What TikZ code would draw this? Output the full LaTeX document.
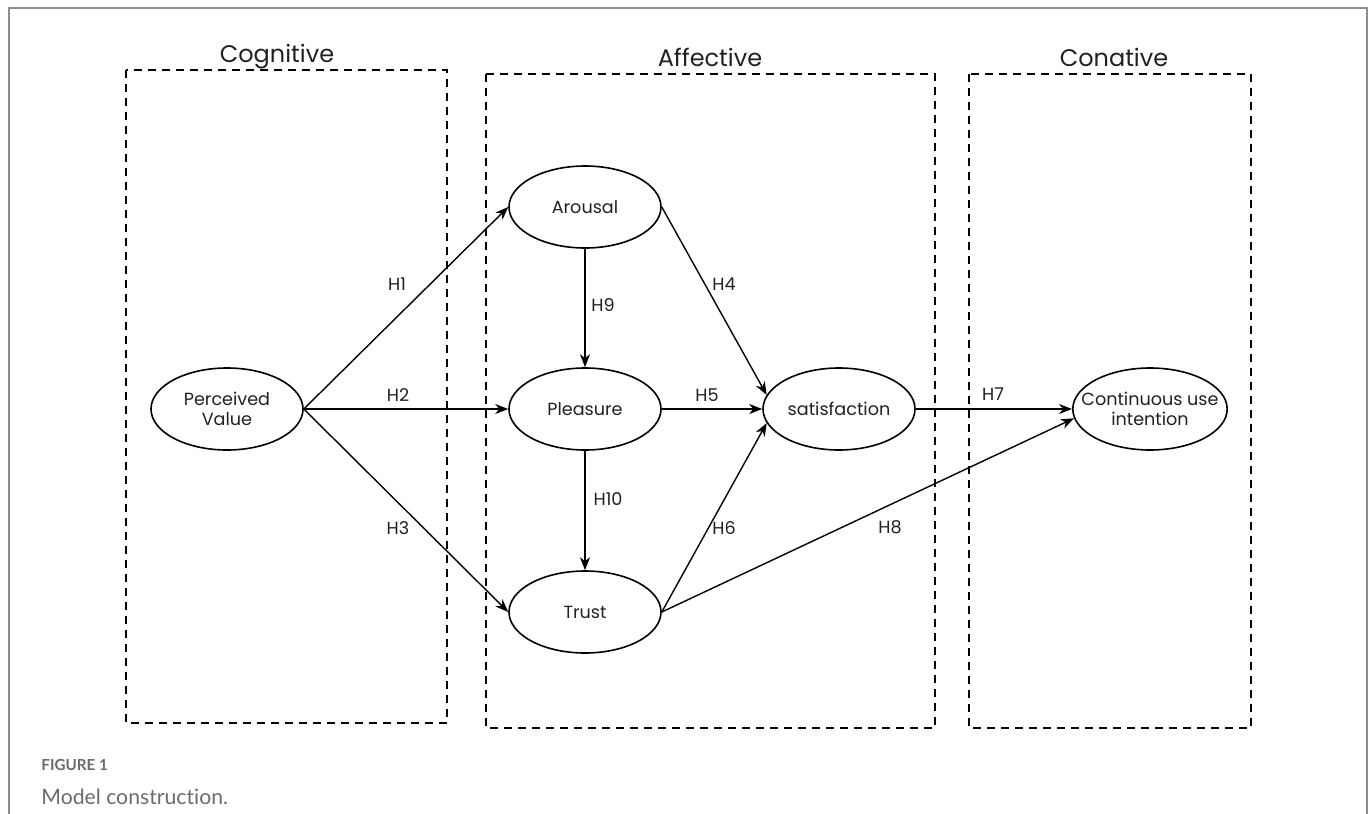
\documentclass[tikz,border=0pt]{standalone}
\usepackage{fontspec}
\setmainfont{Poppins}
\newfontfamily\capfont[Ligatures=NoCommon]{Lato}
\usetikzlibrary{arrows.meta,shapes.geometric}
\definecolor{FrameClr}{rgb}{0.55,0.55,0.55}
\definecolor{CapClr}{rgb}{0.42,0.42,0.42}
\definecolor{TextClr}{rgb}{0.13,0.13,0.13}

\begin{document}
\begin{tikzpicture}[x=0.5pt,y=-0.5pt,
  zone/.style={line width=0.8pt,dash pattern=on 4pt off 3pt},
  var/.style={draw,ellipse,line width=0.8pt,minimum width=76pt,minimum height=41pt,inner sep=0pt,align=center,font=\fontsize{8.8}{10.2}\selectfont,text=TextClr},
  hyp/.style={font=\fontsize{8.8}{10}\selectfont,text=TextClr},
  head/.style={font=\fontsize{12}{14}\selectfont,text=TextClr},
  path/.style={line width=0.7pt,-{Stealth[length=6.5pt,width=5pt,inset=2pt]}}]
\useasboundingbox (0,0) rectangle (1372,814);

\draw[FrameClr,line width=1pt] (9,814) -- (9,8) -- (1367,8) -- (1367,814);

\draw[zone] (126,70) rectangle (447,723);
\draw[zone] (486,74) rectangle (935,728);
\draw[zone] (969,74) rectangle (1251,728);
\node[head] (cog) at (277,57) {Cognitive};
\node[head] (aff) at (710,57) {Affective};
\node[head] (con) at (1114,57) {Conative};

\node[var] (pv) at (227,409) {Perceived\\Value};
\node[var] (ar) at (585,207) {Arousal};
\node[var] (pl) at (585,409) {Pleasure};
\node[var] (tr) at (585,612) {Trust};
\node[var] (sa) at (839,409) {satisfaction};
\node[var,inner xsep=-7pt] (cu) at (1150,409) {Continuous use\\intention};

\draw[path] (pv.east) -- (ar.west);
\draw[path] (pv.east) -- (pl.west);
\draw[path] (pv.east) -- (tr.west);
\draw[path] (ar.east) -- (sa.169);
\draw[path] (pl.east) -- (sa.west);
\draw[path] (tr.east) -- (sa.191);
\draw[path] (sa.east) -- (cu.west);
\draw[path] (tr.east) -- (cu.187);
\draw[path] (ar.south) -- (pl.north);
\draw[path] (pl.south) -- (tr.north);

\node[hyp] (h1) at (397,284) {H1};
\node[hyp] (h2) at (398,395) {H2};
\node[hyp] (h3) at (398,528) {H3};
\node[hyp] (h4) at (724,284) {H4};
\node[hyp] (h5) at (707,395) {H5};
\node[hyp] (h6) at (724,528) {H6};
\node[hyp] (h7) at (993,394) {H7};
\node[hyp] (h8) at (890,527) {H8};
\node[hyp] (h9) at (603,305) {H9};
\node[hyp] (h10) at (608,499) {H10};

\node[anchor=west,inner sep=0pt,font=\capfont\bfseries\fontsize{7.6}{9}\selectfont,text=CapClr] (figno) at (41,765) {FIGURE 1};
\node[anchor=west,inner sep=0pt,font=\capfont\fontsize{10.6}{12}\selectfont,text=CapClr] (figcap) at (41,797) {Model construction.};
\end{tikzpicture}
\end{document}
